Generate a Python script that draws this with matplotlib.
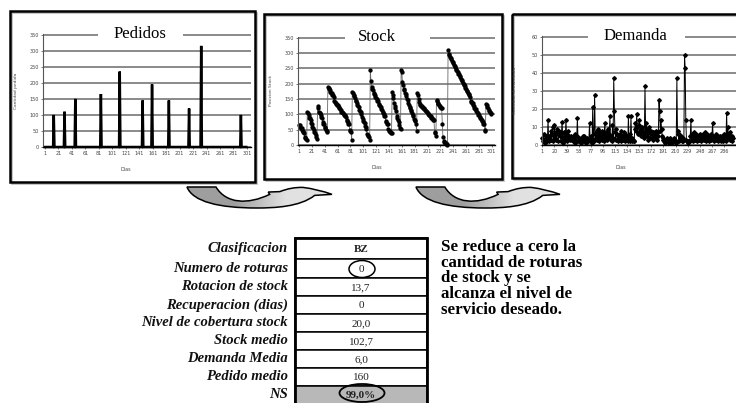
import numpy as np
import matplotlib.pyplot as plt
from matplotlib.patches import Rectangle, Ellipse, PathPatch
from matplotlib.path import Path

W, H = 736, 403

# ---- data ----
days = np.arange(1, 301)
order_days = [14, 30, 46, 84, 112, 146, 160, 185, 215, 233, 292]
order_qty = [100, 110, 150, 165, 235, 145, 195, 145, 120, 315, 100]
stock_start = 70

demand = [
    4, 2, 6, 3, 1, 5, 3, 2, 4, 14, 2, 5, 3,                                   # 1-13
    8, 3, 6, 10, 2, 5, 11, 4, 7, 3, 9, 6, 2, 8, 5, 7,                          # 14-29
    2, 6, 13, 4, 1, 7, 5, 3, 14, 6, 2, 8, 4, 5, 3, 4,                          # 30-45
    5, 3, 4, 2, 5, 3, 1, 6, 2, 5, 15, 2, 3, 4, 2, 1, 4, 3, 2, 5,
    2, 5, 2, 3, 1, 4, 2, 2, 3, 12, 3, 2, 5, 1, 21, 3, 2, 28,                   # 46-83
    6, 4, 8, 3, 5, 9, 2, 7, 4, 6, 3, 8, 5, 2, 6, 12, 4, 7, 3, 5,
    9, 4, 6, 16, 3, 5, 2, 11,                                                  # 84-111
    4, 37, 19, 7, 3, 9, 6, 2, 5, 4, 3, 6, 2, 8, 5, 3, 4, 7, 2, 6,
    3, 5, 4, 2, 16, 3, 6, 2, 16, 4, 2, 3, 2, 2,                                # 112-145
    9, 12, 8, 17, 10, 6, 11, 14, 7, 9, 5, 10, 8, 5,                            # 146-159
    4, 6, 33, 8, 12, 5, 9, 3, 7, 10, 4, 8, 6, 7, 3, 7, 5, 7, 4, 6,
    8, 3, 5, 7, 25,                                                            # 160-184
    19, 8, 14, 9, 5, 3, 4, 2, 3, 1, 2, 4, 3, 2, 1, 3, 2, 4, 2, 1,
    3, 2, 4, 2, 3, 1, 2, 37, 6, 8,                                             # 185-214
    2, 6, 4, 5, 3, 2, 4, 2, 3, 50, 43, 14, 3, 2, 1, 2, 2, 2,                   # 215-232
    5, 14, 3, 6, 4, 2, 7, 5, 3, 6, 4, 2, 5, 3, 4, 4, 6, 2, 5, 3,
    6, 4, 3, 7, 2, 5, 4, 6, 3, 5, 2, 4, 6, 3, 5, 12, 4, 3, 2, 5,
    3, 6, 4, 2, 5, 3, 5, 4, 2, 5, 3, 4, 2, 6, 3, 5, 2, 18, 4,                  # 233-291
    10, 4, 6, 3, 7, 4, 5, 2, 4,                                                # 292-300
]

qty_ticks = [0, 50, 100, 150, 200, 250, 300, 350]
dem_ticks = [0, 10, 20, 30, 40, 50, 60]
day_ticks_a = [1, 21, 41, 61, 81, 101, 121, 141, 161, 181, 201, 221, 241, 261, 281, 301]
day_ticks_b = [1, 20, 39, 58, 77, 96, 115, 134, 153, 172, 191, 210, 229, 248, 267, 286]

table_labels = ["Clasificacion", "Numero de roturas", "Rotacion de stock",
                "Recuperacion (dias)", "Nivel de cobertura stock", "Stock medio",
                "Demanda Media", "Pedido medio", "NS"]
table_values = ["BZ", "0", "13,7", "0", "20,0", "102,7", "6,0", "160", "99,0%"]
note_lines = ["Se reduce a cero la", "cantidad de roturas", "de stock y se",
              "alcanza el nivel de", "servicio deseado."]

pedidos = np.zeros(len(days))
pedidos[np.array(order_days) - 1] = order_qty
stock = stock_start + np.cumsum(pedidos - np.array(demand))

SERIF = "Liberation Serif"
fig = plt.figure(figsize=(W / 100, H / 100), dpi=100)

# overlay in pixel units for frames, arrows, table
ov = fig.add_axes([0, 0, 1, 1])
ov.set_axis_off()


def px_box(l, t, r, b):
    return [l / W, 1 - b / H, (r - l) / W, (b - t) / H]


def panel(l, t, r, b, title, title_x, gap, ylabel, yticks, xticks, xlim, ylim):
    ax = fig.add_axes(px_box(l, t, r, b))
    ax.set_xlim(*xlim)
    ax.set_ylim(*ylim)
    ax.set_yticks(yticks)
    ax.set_xticks(xticks)
    ax.grid(axis="y", color="#8a8a8a", lw=1.4)
    ax.set_axisbelow(True)
    for s in ["top", "right"]:
        ax.spines[s].set_visible(False)
    ax.spines["left"].set_color("#555555")
    ax.spines["left"].set_linewidth(0.8)
    ax.spines["bottom"].set_color("black")
    ax.spines["bottom"].set_linewidth(1.0)
    ax.tick_params(labelsize=3.5, length=1.5, width=0.5, pad=1.5, colors="#444444")
    ax.set_ylabel(ylabel, fontsize=3.2, color="#444444")
    ax.yaxis.set_label_coords(-25 / (r - l), 0.5)
    ax.set_xlabel("Dias", fontsize=3.5, color="#444444")
    ax.xaxis.set_label_coords(0.4, -20 / (b - t))
    g0, g1 = (gap[0] - l) / (r - l), (gap[1] - l) / (r - l)
    ax.add_patch(Rectangle((g0, 0.97), g1 - g0, 0.06, transform=ax.transAxes,
                           facecolor="white", edgecolor="none", clip_on=False, zorder=5))
    ax.text((title_x - l) / (r - l), 1.0, title, transform=ax.transAxes, ha="center",
            va="center", fontsize=12, family=SERIF, zorder=6)
    return ax


# frames with a faint shadow
for (fx, fy, fw, fh) in [(10, 11, 245, 171), (264, 14, 238, 165), (512, 14, 240, 164)]:
    ov.add_patch(Rectangle((fx + 1.5, fy + 1.5), fw, fh, fill=False, lw=1.2, ec="#bbbbbb"))
    ov.add_patch(Rectangle((fx, fy), fw, fh, fill=False, lw=1.8, ec="black"))

ax1 = panel(43, 34, 251, 147, "Pedidos", 140, (98, 183), "Cantidad pedida",
            qty_ticks, day_ticks_a, (-2, 307), (0, 352))
ax1.plot(days, pedidos, color="black", lw=1.8, clip_on=False, solid_joinstyle="miter")

ax2 = panel(298, 37, 495, 145, "Stock", 377, (345, 430), "Posicion Stock",
            qty_ticks, day_ticks_a, (-0.5, 306), (0, 352))
ax2.plot(days, stock, color="#666666", lw=0.6, marker="o", ms=2.1,
         mfc="black", mec="black", clip_on=False)

ax3 = panel(542, 36, 740, 145, "Demanda", 635, (588, 685), "Cantidad demandada",
            dem_ticks, day_ticks_b, (0.5, 311), (0, 60.5))
ax3.plot(days, demand, color="black", lw=0.7, marker="D", ms=1.9,
         mfc="black", mec="black", clip_on=False)


# curved arrows
def curved_arrow(x0, y0, w, h):
    pts = [(0, 0), (0.2, 0),
           (0.27, 0.8), (0.42, 0.85), (0.57, 0.35),
           (0.56, 0.24), (0.64, 0.22),
           (0.72, 0.0), (0.80, 0.02),
           (0.9, 0.1), (1.0, 0.35),
           (0.88, 0.40),
           (0.78, 0.95), (0.6, 1.0), (0.48, 1.0),
           (0.22, 1.0), (0.04, 0.7), (0, 0),
           (0, 0)]
    codes = [Path.MOVETO, Path.LINETO,
             Path.CURVE4, Path.CURVE4, Path.CURVE4,
             Path.LINETO, Path.LINETO,
             Path.CURVE3, Path.CURVE3,
             Path.CURVE3, Path.CURVE3,
             Path.LINETO,
             Path.CURVE4, Path.CURVE4, Path.CURVE4,
             Path.CURVE4, Path.CURVE4, Path.CURVE4,
             Path.CLOSEPOLY]
    verts = [(x0 + u * w, y0 + v * h) for u, v in pts]
    patch = PathPatch(Path(verts, codes), facecolor="none", edgecolor="black", lw=1.1, zorder=3)
    ov.add_patch(patch)
    grad = np.concatenate([np.full(20, 0.62), np.linspace(0.62, 0.88, 24), np.full(20, 0.88)])
    im = ov.imshow(grad.reshape(1, -1), extent=(x0, x0 + w, y0 + h, y0), cmap="gray",
                   vmin=0, vmax=1, aspect="auto", zorder=2)
    im.set_clip_path(patch)


curved_arrow(187, 187, 145, 21)
curved_arrow(416, 187, 144, 21)

# table
row_edges = [238, 259, 278, 296, 314, 332, 350, 368, 386, 404]
col_l, col_r = 295, 427
col_c = (col_l + col_r) / 2
for i, (lab, val) in enumerate(zip(table_labels, table_values)):
    top, bot = row_edges[i], row_edges[i + 1]
    yc = (top + bot) / 2
    face = "#b8b8b8" if i == len(table_labels) - 1 else "white"
    ov.add_patch(Rectangle((col_l, top), col_r - col_l, bot - top,
                           facecolor=face, edgecolor="black", lw=1.1))
    ov.text(288, yc, lab, ha="right", va="center", fontsize=10.5, family=SERIF,
            style="italic", weight="bold", color="#111111")
    ov.text(col_c, yc + 0.5, val, ha="center", va="center", fontsize=8, family=SERIF,
            weight="bold" if i in (0, 8) else "normal", color="#222222")
ov.add_patch(Rectangle((col_l, row_edges[0]), col_r - col_l, row_edges[-1] - row_edges[0],
                       fill=False, lw=2, ec="black"))
ov.add_patch(Ellipse((col_c + 1, 269), 26, 17, fill=False, lw=1.1, ec="black"))
ov.add_patch(Ellipse((col_c + 1, 393), 45, 18, fill=False, lw=1.3, ec="black"))

for i, line in enumerate(note_lines):
    ov.text(441, 247 + i * 15.7, line, ha="left", va="center", fontsize=12.2,
            family=SERIF, weight="bold", color="black")

ov.set_xlim(0, W)
ov.set_ylim(H, 0)

fig.savefig("out.png", dpi=100)
